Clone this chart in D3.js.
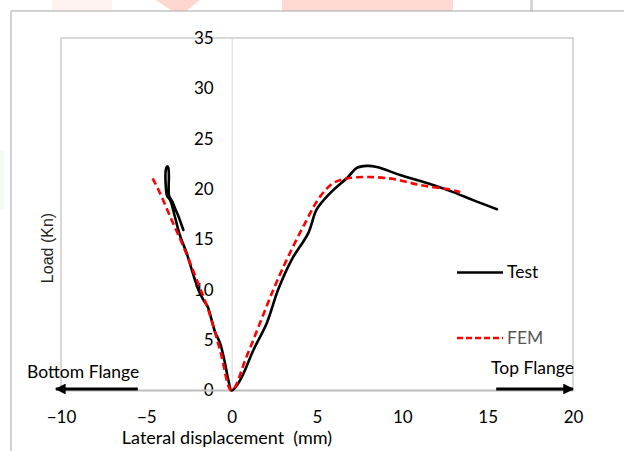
<!DOCTYPE html>
<html>
<head>
<meta charset="utf-8">
<script src="https://cdn.jsdelivr.net/npm/d3@7"></script>
<style>
  html, body { margin: 0; padding: 0; background: #ffffff; }
  svg { display: block; }
  text { white-space: pre; }
</style>
</head>
<body>
<svg id="chart" width="624" height="451"></svg>
<script>
// Load vs lateral displacement of the flange: test record and FEM model.
const xTicks = [-10, -5, 0, 5, 10, 15, 20];
const yTicks = [0, 5, 10, 15, 20, 25, 30, 35];

// Test record, traced as one continuous path: end of the bottom-flange branch,
// its loop near peak, back down to the origin, then out along the top-flange branch.
const testDisp = [-2.83, -2.97, -3.12, -3.32, -3.49, -3.66, -3.68, -3.71, -3.78, -3.86, -3.86, -3.78,
  -3.6, -3.35, -3.03, -2.63, -2.34, -1.95, -1.66, -1.4, -1.27, -0.97, -0.68, -0.39, -0.19, 0,
  0.49, 1.27, 2.06, 2.72, 3.52, 4.48, 4.99, 5.77, 6.82, 7.33, 7.92, 8.5, 9.87, 11.44, 12.98, 14.15, 15.54];
const testLoad = [15.94, 16.6, 17.3, 18.1, 18.8, 19.3, 21.3, 22.1, 22.25, 21.9, 20.3, 19.3,
  18.9, 17.4, 15.4, 13.6, 12.0, 10.0, 9.0, 8.3, 7.6, 5.8, 4.7, 2.7, 1.0, 0,
  1.0, 4.0, 6.7, 10.0, 13.0, 15.6, 18.0, 19.6, 21.2, 22.1, 22.3, 22.2, 21.4, 20.6, 19.7, 18.9, 18.0];

// FEM prediction, from the bottom-flange peak through the origin to the top-flange end.
const femDisp = [-4.63, -4.2, -3.51, -2.83, -2.05, -1.37, -0.68, 0,
  0.88, 1.66, 2.44, 3.23, 4.2, 5.18, 5.96, 6.75, 7.92, 9.48, 11.04, 12.8, 13.39];
const femLoad = [21.07, 19.6, 16.9, 14.3, 11.0, 8.0, 4.0, 0,
  3.4, 6.7, 10.0, 13.0, 16.3, 19.25, 20.6, 21.05, 21.2, 21.0, 20.4, 19.95, 19.7];

const seriesNames = ["Test", "FEM"];
const directionLabels = ["Bottom Flange", "Top Flange"];
const xTitle = "Lateral displacement  (mm)";
const yTitle = "Load (Kn)";

const svg = d3.select("#chart");
const bodyFont = "Lato, 'Open Sans', sans-serif";

// Faint paper marks along the top edge and left margin
const marks = svg.append("g");
marks.append("rect").attr("x", 52).attr("y", 0).attr("width", 60).attr("height", 11).attr("fill", "#fff3f1");
marks.append("path").attr("d", "M156,0 L200,0 L186,11 L172,11 Z").attr("fill", "#ffd6d0");
marks.append("rect").attr("x", 282).attr("y", 0).attr("width", 171).attr("height", 11).attr("fill", "#ffdad4");
marks.append("rect").attr("x", 530).attr("y", 0).attr("width", 3).attr("height", 11).attr("fill", "#d6d6d6");
marks.append("rect").attr("x", 0).attr("y", 150).attr("width", 4).attr("height", 60).attr("fill", "#f6fbf1");

// Chart frame
svg.append("path")
  .attr("d", "M11,451 L11,11 L624,11")
  .attr("fill", "none").attr("stroke", "#a6a6a6").attr("stroke-width", 1);

const x = d3.scaleLinear().domain([-10, 20]).range([61, 573]);
const y = d3.scaleLinear().domain([0, 35]).range([390.5, 38]);

// Plot-area border
svg.append("rect")
  .attr("x", x(-10)).attr("y", y(35))
  .attr("width", x(20) - x(-10)).attr("height", y(0) - y(35))
  .attr("fill", "none").attr("stroke", "#bfbfbf").attr("stroke-width", 1.2);

// Vertical axis at zero displacement, labels on its left
const yAxis = d3.axisLeft(y).tickValues(yTicks).tickSize(0).tickPadding(18);
const gy = svg.append("g").attr("transform", `translate(${x(0)},0)`).call(yAxis);
gy.select(".domain").attr("stroke", "#d9d9d9").attr("stroke-width", 1);
gy.selectAll("text").attr("font-family", bodyFont).attr("font-size", 17).attr("fill", "#000");

// Horizontal axis at zero load, labels below the plot
svg.append("line")
  .attr("x1", x(-10)).attr("x2", x(20)).attr("y1", y(0)).attr("y2", y(0))
  .attr("stroke", "#bfbfbf").attr("stroke-width", 2);
const xAxis = d3.axisBottom(x).tickValues(xTicks).tickSize(0).tickPadding(20);
const gx = svg.append("g").attr("transform", `translate(0,${y(0)})`).call(xAxis);
gx.select(".domain").remove();
gx.selectAll("text").attr("font-family", bodyFont).attr("font-size", 17).attr("fill", "#000");

// Axis titles
svg.append("text")
  .attr("x", 227).attr("y", 444)
  .attr("text-anchor", "middle")
  .attr("font-family", bodyFont).attr("font-size", 18).attr("fill", "#000")
  .text(xTitle);
svg.append("text")
  .attr("transform", "translate(53,248) rotate(-90)")
  .attr("text-anchor", "middle")
  .attr("font-family", "'Liberation Sans', Arial, sans-serif").attr("font-size", 16).attr("fill", "#262626")
  .text(yTitle);

// Direction arrows on the displacement axis
const defs = svg.append("defs");
defs.append("marker")
  .attr("id", "arrowHead").attr("viewBox", "0 0 10 10")
  .attr("refX", 9).attr("refY", 5)
  .attr("markerWidth", 3.6).attr("markerHeight", 3.6)
  .attr("markerUnits", "strokeWidth").attr("orient", "auto")
  .append("path").attr("d", "M0,0 L10,5 L0,10 Z").attr("fill", "#000");

svg.append("line")
  .attr("x1", x(-5.5)).attr("x2", x(-10.3)).attr("y1", y(0) - 1.5).attr("y2", y(0) - 1.5)
  .attr("stroke", "#000").attr("stroke-width", 3).attr("marker-end", "url(#arrowHead)");
svg.append("line")
  .attr("x1", x(15.5)).attr("x2", x(20)).attr("y1", y(0) - 1.5).attr("y2", y(0) - 1.5)
  .attr("stroke", "#000").attr("stroke-width", 3).attr("marker-end", "url(#arrowHead)");

svg.append("text")
  .attr("x", 27).attr("y", 378)
  .attr("font-family", bodyFont).attr("font-size", 17.5).attr("fill", "#000")
  .text(directionLabels[0]);
svg.append("text")
  .attr("x", 574).attr("y", 374)
  .attr("text-anchor", "end")
  .attr("font-family", bodyFont).attr("font-size", 17.5).attr("fill", "#000")
  .text(directionLabels[1]);

// Curves
const line = d3.line()
  .x(d => x(d[0]))
  .y(d => y(d[1]))
  .curve(d3.curveCatmullRom.alpha(0.5));

const femPts = femDisp.map((v, i) => [v, femLoad[i]]);
const testPts = testDisp.map((v, i) => [v, testLoad[i]]);

svg.append("path")
  .datum(testPts)
  .attr("d", line)
  .attr("fill", "none").attr("stroke", "#000")
  .attr("stroke-width", 2.6).attr("stroke-linejoin", "round").attr("stroke-linecap", "round");

svg.append("path")
  .datum(femPts)
  .attr("d", line)
  .attr("fill", "none").attr("stroke", "#ff0000")
  .attr("stroke-width", 2.6).attr("stroke-dasharray", "7,4");

// Legend
const legend = svg.append("g");
legend.append("line")
  .attr("x1", 457).attr("x2", 503).attr("y1", 272.5).attr("y2", 272.5)
  .attr("stroke", "#000").attr("stroke-width", 2.6);
legend.append("text")
  .attr("x", 507).attr("y", 278)
  .attr("font-family", bodyFont).attr("font-size", 17.5).attr("fill", "#000")
  .text(seriesNames[0]);
legend.append("line")
  .attr("x1", 457).attr("x2", 503).attr("y1", 338).attr("y2", 338)
  .attr("stroke", "#ff0000").attr("stroke-width", 2.6).attr("stroke-dasharray", "6,3");
legend.append("text")
  .attr("x", 507).attr("y", 344)
  .attr("font-family", bodyFont).attr("font-size", 17.5).attr("fill", "#595959")
  .text(seriesNames[1]);
</script>
</body>
</html>
